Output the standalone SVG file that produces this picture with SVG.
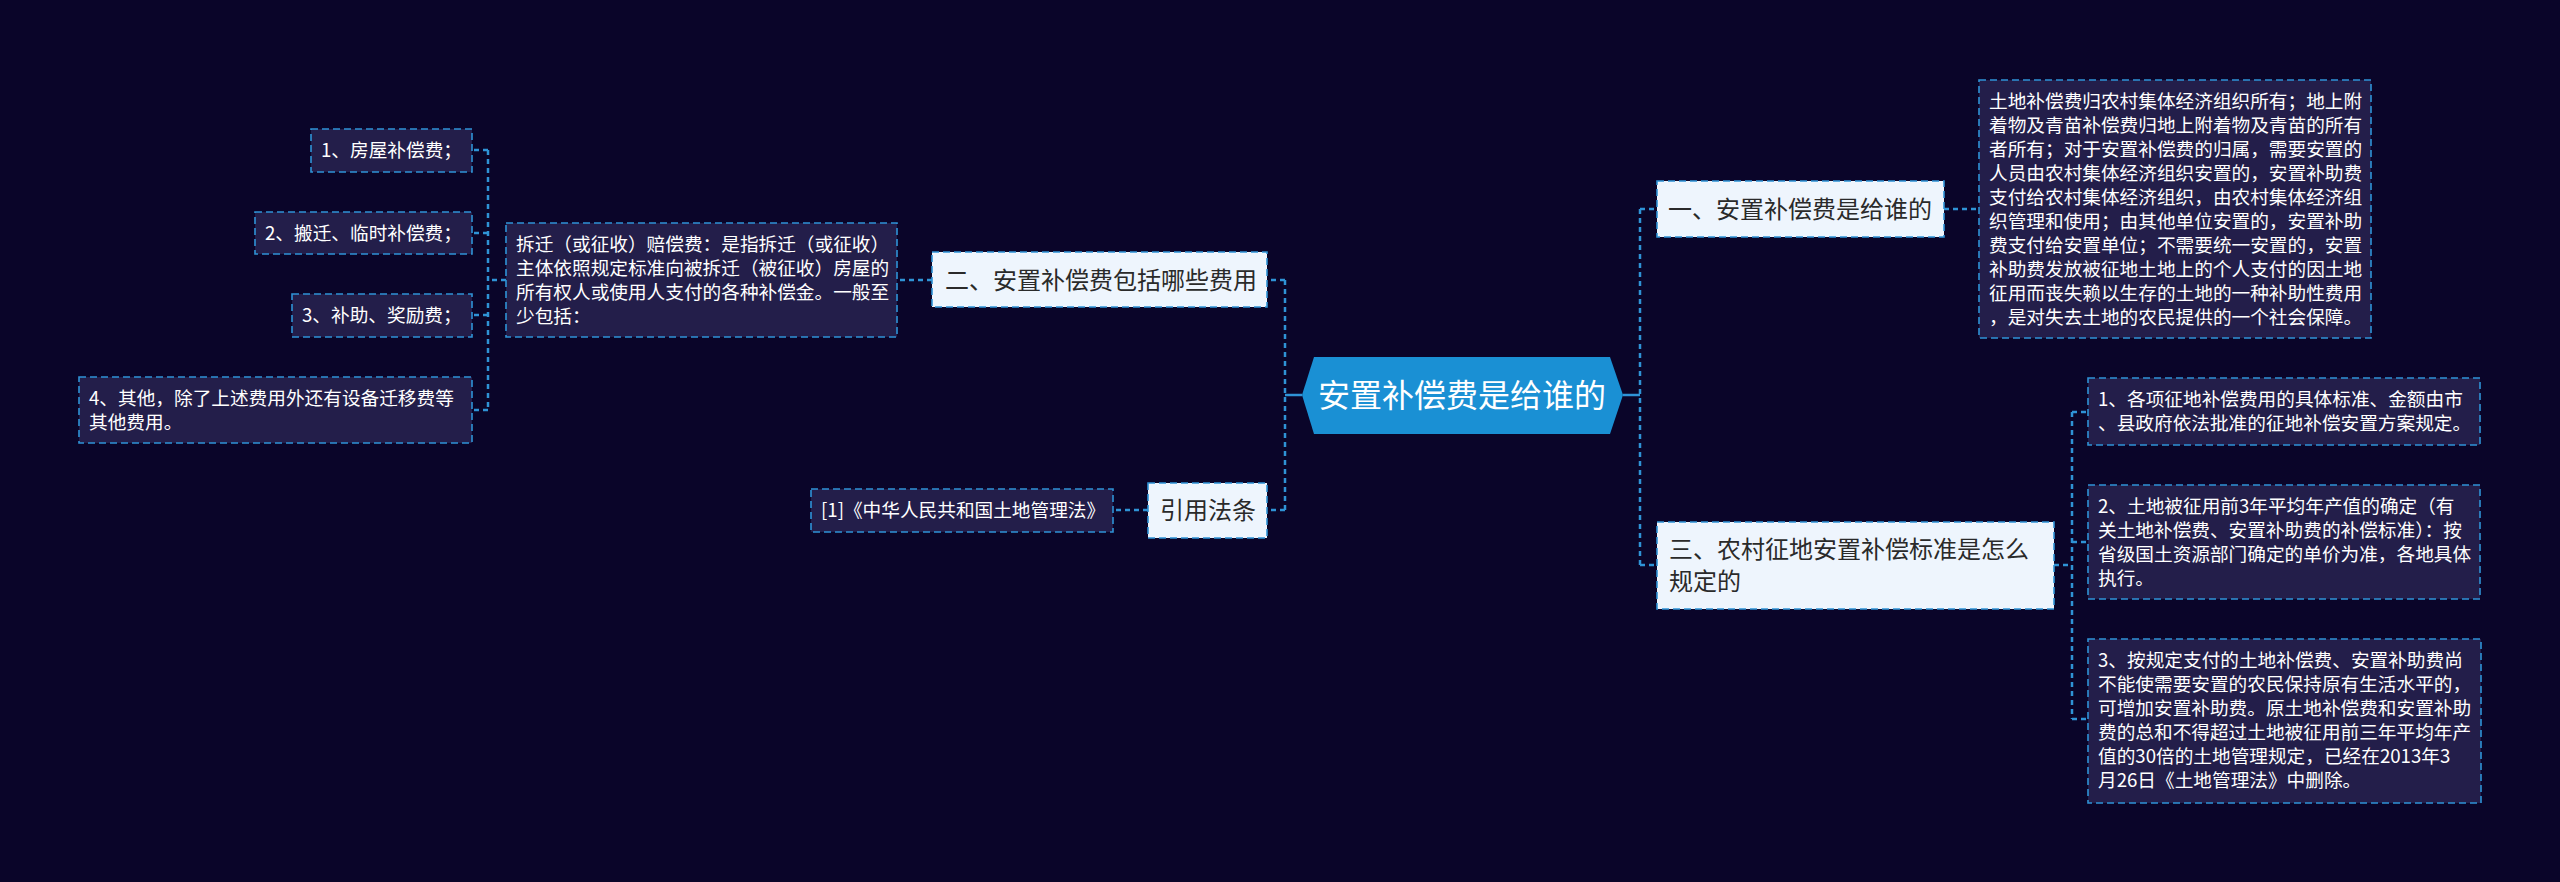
<svg xmlns="http://www.w3.org/2000/svg" width="2560" height="882" viewBox="0 0 2560 882">
<style>
text{font-family:"Noto Sans CJK SC","Noto Sans",sans-serif;}
.conn{fill:none;stroke:#2f93d6;stroke-width:2.5;stroke-dasharray:5 4;}
.stub{fill:none;stroke:#2f93d6;stroke-width:2.5;}
.tb{fill:#231e4a;stroke:#2f93d6;stroke-width:1.6;stroke-dasharray:7 4;}
.lt{fill:#eef5fd;stroke:#2f93d6;stroke-width:1.6;stroke-dasharray:7 4;}
.tt{font-size:18.67px;fill:#ffffff;}
.nt{font-size:24px;fill:#2a2a2a;}
.ct{font-size:32px;fill:#ffffff;}
</style>
<rect x="0" y="0" width="2560" height="882" fill="#0a0529"/>
<g id="connectors">
<path class="stub" d="M1302 395 H1285"/>
<path class="conn" d="M1285 280 V510"/>
<path class="conn" d="M1285 280 H1267"/>
<path class="conn" d="M1285 510 H1267"/>
<path class="stub" d="M1623 395 H1640"/>
<path class="conn" d="M1640 209 V565"/>
<path class="conn" d="M1640 209 H1657"/>
<path class="conn" d="M1640 565 H1657"/>
<path class="conn" d="M1944 209 H1979"/>
<path class="conn" d="M2054 565 H2072"/>
<path class="conn" d="M2072 412 V719"/>
<path class="conn" d="M2072 412 H2088"/>
<path class="conn" d="M2072 542 H2088"/>
<path class="conn" d="M2072 719 H2088"/>
<path class="conn" d="M932 280 H897"/>
<path class="conn" d="M506 280 H488"/>
<path class="conn" d="M488 150 V410"/>
<path class="conn" d="M488 150 H472"/>
<path class="conn" d="M488 233 H472"/>
<path class="conn" d="M488 315 H472"/>
<path class="conn" d="M488 410 H472"/>
<path class="conn" d="M1148 510 H1113"/>
</g>
<g id="root">
<polygon points="1302,395 1314,357 1610,357 1623,395 1610,434 1314,434" fill="#1a90d4"/>
<text class="ct" x="1462" y="407" text-anchor="middle">安置补偿费是给谁的</text>
</g>
<g id="n1">
<rect class="lt" x="1657" y="181" width="287" height="56"/>
<text class="nt" x="1668" y="218">一、安置补偿费是给谁的</text>
</g>
<g id="n1-text">
<rect class="tb" x="1979" y="80" width="392" height="258"/>
<text class="tt" x="1989" y="108">土地补偿费归农村集体经济组织所有；地上附</text>
<text class="tt" x="1989" y="132">着物及青苗补偿费归地上附着物及青苗的所有</text>
<text class="tt" x="1989" y="156">者所有；对于安置补偿费的归属，需要安置的</text>
<text class="tt" x="1989" y="180">人员由农村集体经济组织安置的，安置补助费</text>
<text class="tt" x="1989" y="204">支付给农村集体经济组织，由农村集体经济组</text>
<text class="tt" x="1989" y="228">织管理和使用；由其他单位安置的，安置补助</text>
<text class="tt" x="1989" y="252">费支付给安置单位；不需要统一安置的，安置</text>
<text class="tt" x="1989" y="276">补助费发放被征地土地上的个人支付的因土地</text>
<text class="tt" x="1989" y="300">征用而丧失赖以生存的土地的一种补助性费用</text>
<text class="tt" x="1989" y="324">，是对失去土地的农民提供的一个社会保障。</text>
</g>
<g id="n3">
<rect class="lt" x="1657" y="522" width="397" height="87"/>
<text class="nt" x="1669" y="558">三、农村征地安置补偿标准是怎么</text>
<text class="nt" x="1669" y="590">规定的</text>
</g>
<g id="n3-1">
<rect class="tb" x="2088" y="378" width="392" height="67"/>
<text class="tt" x="2098" y="406">1、各项征地补偿费用的具体标准、金额由市</text>
<text class="tt" x="2098" y="430">、县政府依法批准的征地补偿安置方案规定。</text>
</g>
<g id="n3-2">
<rect class="tb" x="2088" y="485" width="392" height="114"/>
<text class="tt" x="2098" y="513">2、土地被征用前3年平均年产值的确定（有</text>
<text class="tt" x="2098" y="537">关土地补偿费、安置补助费的补偿标准）：按</text>
<text class="tt" x="2098" y="561">省级国土资源部门确定的单价为准，各地具体</text>
<text class="tt" x="2098" y="585">执行。</text>
</g>
<g id="n3-3">
<rect class="tb" x="2088" y="639" width="393" height="164"/>
<text class="tt" x="2098" y="667">3、按规定支付的土地补偿费、安置补助费尚</text>
<text class="tt" x="2098" y="691">不能使需要安置的农民保持原有生活水平的，</text>
<text class="tt" x="2098" y="715">可增加安置补助费。原土地补偿费和安置补助</text>
<text class="tt" x="2098" y="739">费的总和不得超过土地被征用前三年平均年产</text>
<text class="tt" x="2098" y="763">值的30倍的土地管理规定，已经在2013年3</text>
<text class="tt" x="2098" y="787">月26日《土地管理法》中删除。</text>
</g>
<g id="n2">
<rect class="lt" x="932" y="252" width="335" height="55"/>
<text class="nt" x="945" y="289">二、安置补偿费包括哪些费用</text>
</g>
<g id="n2-text">
<rect class="tb" x="506" y="223" width="391" height="114"/>
<text class="tt" x="516" y="251">拆迁（或征收）赔偿费：是指拆迁（或征收）</text>
<text class="tt" x="516" y="275">主体依照规定标准向被拆迁（被征收）房屋的</text>
<text class="tt" x="516" y="299">所有权人或使用人支付的各种补偿金。一般至</text>
<text class="tt" x="516" y="323">少包括：</text>
</g>
<g id="n2-1">
<rect class="tb" x="311" y="129" width="161" height="43"/>
<text class="tt" x="321" y="157">1、房屋补偿费；</text>
</g>
<g id="n2-2">
<rect class="tb" x="255" y="212" width="217" height="42"/>
<text class="tt" x="265" y="240">2、搬迁、临时补偿费；</text>
</g>
<g id="n2-3">
<rect class="tb" x="292" y="294" width="180" height="43"/>
<text class="tt" x="302" y="322">3、补助、奖励费；</text>
</g>
<g id="n2-4">
<rect class="tb" x="79" y="377" width="393" height="66"/>
<text class="tt" x="89" y="405">4、其他，除了上述费用外还有设备迁移费等</text>
<text class="tt" x="89" y="429">其他费用。</text>
</g>
<g id="n4">
<rect class="lt" x="1148" y="483" width="119" height="55"/>
<text class="nt" x="1160" y="519">引用法条</text>
</g>
<g id="n4-1">
<rect class="tb" x="811" y="489" width="302" height="43"/>
<text class="tt" x="821" y="517">[1]《中华人民共和国土地管理法》</text>
</g>
</svg>
